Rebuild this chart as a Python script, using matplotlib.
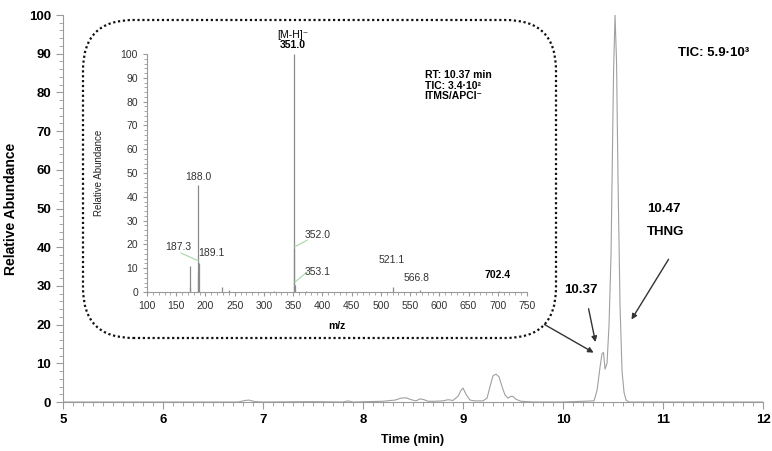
import matplotlib.pyplot as plt
from matplotlib.patches import FancyBboxPatch
from matplotlib.ticker import MultipleLocator

plt.rcParams['font.family'] = ['Liberation Sans', 'DejaVu Sans']

# chromatogram (time in min, relative abundance)
rt = [5.0, 6.0, 6.75, 6.82, 6.86, 6.92, 7.0, 7.5, 7.8, 7.85, 7.9, 8.2, 8.32, 8.38,
      8.43, 8.48, 8.53, 8.57, 8.61, 8.65, 8.72, 8.8, 8.85, 8.9, 8.95, 8.98, 9.0,
      9.03, 9.07, 9.12, 9.2, 9.24, 9.27, 9.3, 9.33, 9.36, 9.39, 9.42, 9.45, 9.48,
      9.5, 9.53, 9.58, 9.7, 10.0, 10.31, 10.34, 10.37, 10.39, 10.405, 10.42,
      10.44, 10.46, 10.48, 10.49, 10.505, 10.52, 10.535, 10.55, 10.57, 10.59,
      10.61, 10.63, 10.66, 10.75, 12.0]
abund = [0, 0, 0, 0.4, 0.5, 0.1, 0, 0.1, 0, 0.3, 0, 0.2, 0.5, 1.0,
         1.1, 0.6, 0.3, 0.8, 0.6, 0.2, 0.2, 0.3, 0.6, 0.4, 1.5, 3.0, 3.6,
         2.0, 0.5, 0.3, 0.3, 1.0, 4.0, 6.8, 7.2, 6.5, 4.0, 1.8, 1.0, 1.5,
         1.4, 0.7, 0.2, 0, 0, 0.3, 3, 9, 12.5, 12.8, 8.5,
         10, 20, 38, 57, 85, 100, 88, 57, 25, 8,
         2.5, 0.5, 0, 0, 0]

# mass spectrum at RT 10.37 min
mz = [173.0, 174.0, 187.3, 188.0, 189.1, 228.0, 241.0, 318.0, 351.0, 352.0,
      353.1, 372.0, 521.1, 566.8, 702.4]
intens = [11, 2, 8, 45, 12, 2, 1, 0.5, 100, 18, 3, 0.5, 2, 1, 0.5]

fig = plt.figure(figsize=(7.72, 4.51), dpi=100)
ax = fig.add_axes([0.0816, 0.1086, 0.9068, 0.8581])
ax.plot(rt, abund, color='#a0a0a0', lw=0.8)
ax.set_xlim(5, 12)
ax.set_ylim(0, 100)
for s in ['top', 'right']:
    ax.spines[s].set_visible(False)
for s in ['left', 'bottom']:
    ax.spines[s].set_color('#9a9a9a')
ax.xaxis.set_major_locator(MultipleLocator(1))
ax.xaxis.set_minor_locator(MultipleLocator(0.1))
ax.yaxis.set_major_locator(MultipleLocator(10))
ax.yaxis.set_minor_locator(MultipleLocator(2))
ax.tick_params(which='both', color='#9a9a9a', labelsize=9.5)
ax.tick_params(which='major', length=5)
ax.tick_params(which='minor', length=3)
for lab in ax.get_xticklabels() + ax.get_yticklabels():
    lab.set_fontweight('bold')
ax.set_xlabel('Time (min)', fontsize=9, fontweight='bold', labelpad=6)
ax.set_ylabel('Relative Abundance', fontsize=10, fontweight='bold', labelpad=8)

ax.text(11.15, 90.2, 'TIC: 5.9·10³', fontsize=9.5, fontweight='bold', va='center')
ax.text(10.84, 50, '10.47', fontsize=9.5, fontweight='bold', va='center')
ax.text(10.84, 44, 'THNG', fontsize=9.5, fontweight='bold', va='center')
ax.text(10.18, 29, '10.37', fontsize=9.5, fontweight='bold', va='center', ha='center')
arr = dict(arrowstyle='-|>', color='#333333', lw=1.0, mutation_scale=8)
ax.annotate('', xy=(10.67, 20.7), xytext=(11.07, 37.5), arrowprops=arr)
ax.annotate('', xy=(10.33, 14.8), xytext=(10.25, 24.8), arrowprops=arr)
ax.annotate('', xy=(10.33, 12.4), xytext=(9.79, 20.4), arrowprops=arr)

# dotted rounded frame around the inset
box = FancyBboxPatch((0.83, 1.13), 4.73, 3.18, boxstyle='round,pad=0,rounding_size=0.5',
                     transform=fig.dpi_scale_trans, fill=False, ls=(0, (1, 1.2)),
                     lw=1.6, ec='#111111')
fig.patches.append(box)

ins = fig.add_axes([0.1904, 0.3525, 0.4922, 0.5277])
ins.vlines(mz, 0, intens, color='#8a8a8a', lw=0.9)
ins.set_xlim(100, 750)
ins.set_ylim(0, 100)
ins.patch.set_alpha(0)
for s in ['top', 'right']:
    ins.spines[s].set_visible(False)
for s in ['left', 'bottom']:
    ins.spines[s].set_color('#9a9a9a')
ins.xaxis.set_major_locator(MultipleLocator(50))
ins.xaxis.set_minor_locator(MultipleLocator(10))
ins.yaxis.set_major_locator(MultipleLocator(10))
ins.yaxis.set_minor_locator(MultipleLocator(2))
ins.tick_params(which='both', color='#9a9a9a', labelsize=7.5, labelcolor='#333333')
ins.tick_params(which='major', length=3)
ins.tick_params(which='minor', length=2)
ins.set_xlabel('m/z', fontsize=7.5, fontweight='bold', labelpad=7)
ins.set_ylabel('Relative Abundance', fontsize=7, color='#222222', labelpad=12)

lbl = dict(fontsize=7.5, color='#333333', ha='center', va='center')
ins.text(187, 48.3, '188.0', **lbl)
ins.text(153, 19, '187.3', **lbl)
ins.text(211, 16.4, '189.1', **lbl)
ins.text(392, 24, '352.0', **lbl)
ins.text(392, 8.4, '353.1', **lbl)
ins.text(519, 13.4, '521.1', **lbl)
ins.text(562, 5.9, '566.8', **lbl)
ins.text(700, 7.1, '702.4', fontsize=7.5, fontweight='bold', ha='center', va='center')
ins.text(349, 108, '[M-H]⁻', fontsize=7.5, ha='center', va='center', clip_on=False)
ins.text(350, 103.8, '351.0', fontsize=7.5, fontweight='bold', ha='center', va='center',
         clip_on=False)
ins.text(575, 91.2, 'RT: 10.37 min', fontsize=7.5, fontweight='bold', va='center')
ins.text(575, 86.6, 'TIC: 3.4·10²', fontsize=7.5, fontweight='bold', va='center')
ins.text(575, 82.2, 'ITMS/APCI⁻', fontsize=7.5, fontweight='bold', va='center')

green = dict(color='#a8d8a8', lw=0.8)
ins.plot([158, 189], [16.4, 13], **green)
ins.plot([353, 374], [19, 21.8], **green)
ins.plot([353, 374], [4.2, 8.4], **green)

fig.savefig('out.png', dpi=100)
